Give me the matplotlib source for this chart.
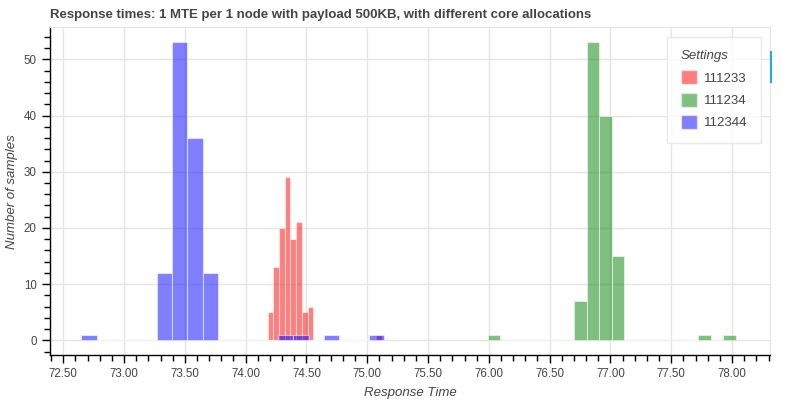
import numpy as np
import matplotlib
matplotlib.use("Agg")
import matplotlib.pyplot as plt
from matplotlib.patches import Patch
from matplotlib.ticker import MultipleLocator, FormatStrFormatter

plt.rcParams['font.family'] = ['Liberation Sans', 'DejaVu Sans']

# histogram data (20 bins per setting)
settings = ["111233", "111234", "112344"]
colors = ["red", "green", "blue"]

red_range = (74.18, 75.12)
red_counts = [5, 13, 20, 29, 18, 21, 5, 6, 0, 0, 0, 0, 0, 0, 0, 0, 0, 0, 0, 1]

green_range = (75.99, 78.03)
green_counts = [1, 0, 0, 0, 0, 0, 0, 7, 53, 40, 15, 0, 0, 0, 0, 0, 0, 1, 0, 1]

blue_range = (72.65, 75.14)
blue_counts = [1, 0, 0, 0, 0, 12, 53, 36, 12, 0, 0, 0, 0, 1, 1, 0, 1, 0, 0, 1]

n_bins = 20
x_ticks = [72.5, 73.0, 73.5, 74.0, 74.5, 75.0, 75.5, 76.0, 76.5, 77.0, 77.5, 78.0]
y_ticks = [0, 10, 20, 30, 40, 50]

fig = plt.figure(figsize=(8, 4), dpi=100)
ax = fig.add_axes([50 / 800, 45 / 400, 720 / 800, 327.7 / 400])

handles = []
for label, color, rng, counts in zip(settings, colors,
                                     [red_range, green_range, blue_range],
                                     [red_counts, green_counts, blue_counts]):
    edges = np.linspace(rng[0], rng[1], n_bins + 1)
    ax.bar(edges[:-1], counts, width=np.diff(edges), align='edge',
           color=color, alpha=0.5, edgecolor='white', linewidth=0.8, zorder=3)
    handles.append(Patch(facecolor=color, alpha=0.5, edgecolor='white', label=label))

ax.set_xlim(72.391, 78.312)
ax.set_ylim(-2.6, 55.7)
ax.set_xticks(x_ticks)
ax.set_yticks(y_ticks)
ax.xaxis.set_major_formatter(FormatStrFormatter('%.2f'))
ax.xaxis.set_minor_locator(MultipleLocator(0.1))
ax.yaxis.set_minor_locator(MultipleLocator(2))
ax.tick_params(which='major', direction='out', length=6, width=1, color='black',
               labelsize=8.3, labelcolor='#444444')
ax.tick_params(which='minor', direction='out', length=4, width=1, color='black')
ax.grid(True, which='major', color='#e5e5e5', linewidth=1, zorder=0)
ax.set_axisbelow(True)

for side in ['top', 'right']:
    ax.spines[side].set_color('#e5e5e5')
for side in ['left', 'bottom']:
    ax.spines[side].set_color('black')
    ax.spines[side].set_linewidth(1)

ax.set_xlabel("Response Time", fontsize=9.5, style='italic', color='#444444', labelpad=5)
ax.set_ylabel("Number of samples", fontsize=9.5, style='italic', color='#444444', labelpad=4)
ax.set_title("Response times: 1 MTE per 1 node with payload 500KB, with different core allocations",
             fontsize=9.5, fontweight='bold', color='#444444', loc='left', pad=7, x=0)

leg = ax.legend(handles=handles, title="Settings", loc='upper right',
                bbox_to_anchor=(0.9875, 0.9695), borderaxespad=0, fontsize=9.5,
                frameon=True, fancybox=False, edgecolor='#e5e5e5',
                handlelength=1.25, handleheight=1.25,
                borderpad=1.0, labelspacing=0.6, handletextpad=0.55, alignment='left',
                title_fontproperties={'style': 'italic', 'size': 9.5})
leg.get_title().set_color('#444444')
for t in leg.get_texts():
    t.set_color('#444444')
leg.get_frame().set_linewidth(1)

# toolbar active marker
fig.add_artist(plt.Line2D([771 / 800, 771 / 800], [1 - 52 / 400, 1 - 82 / 400],
                          color='#26aae1', linewidth=1.5))

fig.savefig("out.png", dpi=100)
